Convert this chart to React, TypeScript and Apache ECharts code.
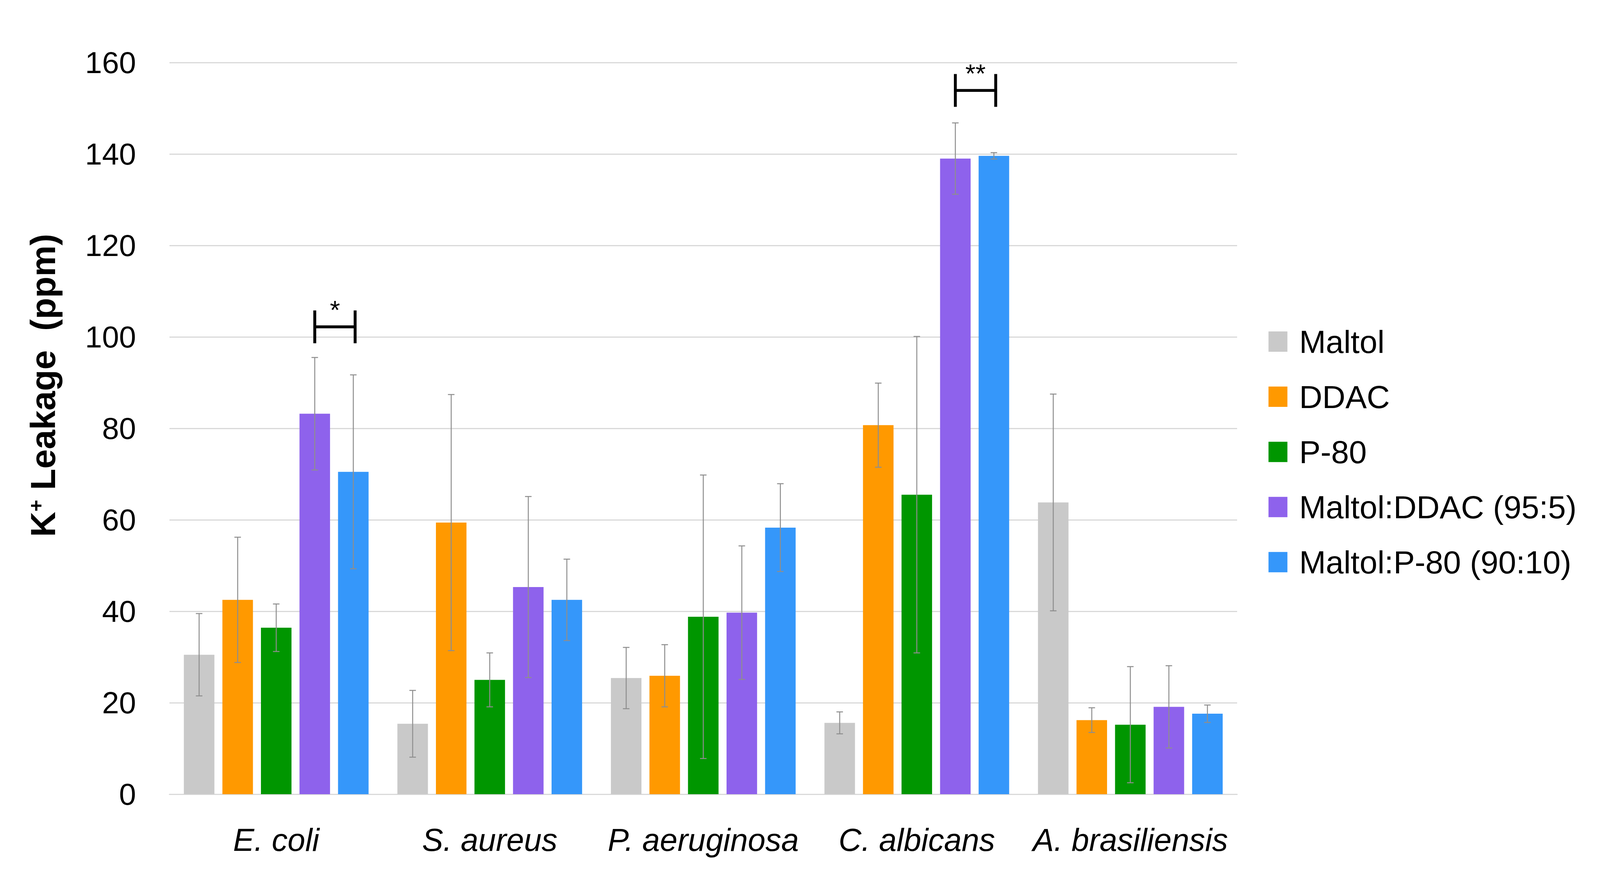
import React, { useEffect, useRef } from "react";
import * as echarts from "echarts";

const categories = ["E. coli", "S. aureus", "P. aeruginosa", "C. albicans", "A. brasiliensis"];
const seriesNames = ["Maltol", "DDAC", "P-80", "Maltol:DDAC (95:5)", "Maltol:P-80 (90:10)"];
const colors = ["#C9C9C9", "#FF9900", "#009600", "#8E62EC", "#3597FA"];

const maltol = [30.5, 15.4, 25.4, 15.6, 63.8];
const ddac = [42.5, 59.4, 25.9, 80.7, 16.2];
const p80 = [36.4, 25.0, 38.8, 65.5, 15.2];
const maltolDdac = [83.2, 45.3, 39.7, 139.0, 19.1];
const maltolP80 = [70.5, 42.5, 58.3, 139.6, 17.6];

const maltolErr = [9.0, 7.3, 6.7, 2.4, 23.7];
const ddacErr = [13.7, 28.0, 6.8, 9.2, 2.7];
const p80Err = [5.2, 5.9, 31.0, 34.6, 12.7];
const maltolDdacErr = [12.3, 19.8, 14.6, 7.8, 9.0];
const maltolP80Err = [21.2, 8.9, 9.6, 0.7, 1.9];

const yMin = 0;
const yMax = 160;
const yStep = 20;

// significance brackets: category index, bracket level (ppm), label, from series, to series
const sigCategories = [0, 3];
const sigLevels = [102.2, 153.9];
const sigLabels = ["*", "**"];
const sigFrom = [3, 3];
const sigTo = [4, 4];

const values = [maltol, ddac, p80, maltolDdac, maltolP80];
const errors = [maltolErr, ddacErr, p80Err, maltolDdacErr, maltolP80Err];

const FONT = "'Liberation Sans', Arial, sans-serif";
const REF_W = 4400;
const REF_H = 2272;
const ERR_COLOR = "#8E8E8E";

export default function App() {
  const ref = useRef<HTMLDivElement>(null);
  useEffect(() => {
    document.body.style.margin = "0";
    document.body.style.overflow = "hidden";
    if (!ref.current) return;
    const W = ref.current.clientWidth || REF_W;
    const H = ref.current.clientHeight || REF_H;
    const sx = W / REF_W;
    const sy = H / REF_H;
    const sf = Math.min(sx, sy);
    const X = (v: number) => v * sx;
    const Y = (v: number) => v * sy;
    const F = (v: number) => v * sf;

    const BAR_W = X(84);
    const GAP = X(22);

    const chart = echarts.init(ref.current, undefined, { renderer: "svg" });
    const offsetOf = (i: number) => (i - 2) * (BAR_W + GAP);

    const barSeries = values.map((vals, i) => ({
      name: seriesNames[i],
      type: "bar",
      data: vals,
      barWidth: BAR_W,
      barGap: (GAP / BAR_W) * 100 + "%",
      itemStyle: { color: colors[i] },
      z: 2,
    }));

    const errSeries = errors.map((errs, i) => ({
      name: "err" + i,
      type: "custom",
      z: 3,
      data: errs.map((e, c) => [c, values[i][c], e]),
      renderItem: (params: any, api: any) => {
        const cat = api.value(0);
        const val = api.value(1);
        const err = api.value(2);
        const top = api.coord([cat, val + err]);
        const bot = api.coord([cat, Math.max(val - err, 0)]);
        const x = top[0] + offsetOf(i);
        const cap = X(9);
        const style = { stroke: ERR_COLOR, lineWidth: 2.5 };
        return {
          type: "group",
          children: [
            { type: "line", shape: { x1: x, y1: top[1], x2: x, y2: bot[1] }, style },
            { type: "line", shape: { x1: x - cap, y1: top[1], x2: x + cap, y2: top[1] }, style },
            { type: "line", shape: { x1: x - cap, y1: bot[1], x2: x + cap, y2: bot[1] }, style },
          ],
        };
      },
    }));

    const sigSeries = {
      name: "significance",
      type: "custom",
      z: 4,
      data: sigCategories.map((c, k) => [c, sigLevels[k], k]),
      renderItem: (params: any, api: any) => {
        const cat = api.value(0);
        const lvl = api.value(1);
        const k = api.value(2);
        const p = api.coord([cat, lvl]);
        const x1 = p[0] + offsetOf(sigFrom[k]);
        const x2 = p[0] + offsetOf(sigTo[k]) + X(5);
        const y = p[1];
        const h = Y(42);
        const style = { stroke: "#000", lineWidth: 8 * sf };
        return {
          type: "group",
          children: [
            { type: "line", shape: { x1, y1: y, x2, y2: y }, style },
            { type: "line", shape: { x1, y1: y - h, x2: x1, y2: y + h }, style },
            { type: "line", shape: { x1: x2, y1: y - h, x2, y2: y + h }, style },
            {
              type: "text",
              x: (x1 + x2) / 2,
              y: y - Y(44),
              style: {
                text: sigLabels[k],
                fill: "#000",
                font: `${F(72)}px ${FONT}`,
                textAlign: "center",
                textVerticalAlign: "middle",
              },
            },
          ],
        };
      },
    };

    chart.setOption({
      animation: false,
      backgroundColor: "#ffffff",
      grid: { left: X(466), right: X(998), top: Y(160), bottom: Y(240), containLabel: false },
      legend: {
        orient: "vertical",
        left: X(3483),
        top: Y(828),
        data: seriesNames,
        icon: "rect",
        itemWidth: X(52),
        itemHeight: Y(52),
        itemGap: Y(141) - F(88),
        textStyle: {
          fontFamily: FONT,
          fontSize: F(88),
          lineHeight: F(88),
          color: "#000",
          padding: [0, 0, 0, X(27)],
        },
      },
      xAxis: {
        type: "category",
        data: categories,
        axisLine: { lineStyle: { color: "#D9D9D9", width: 3 } },
        axisTick: { show: false },
        axisLabel: {
          interval: 0,
          fontFamily: FONT,
          fontStyle: "italic",
          fontSize: F(87),
          color: "#000",
          margin: Y(76),
        },
      },
      yAxis: {
        type: "value",
        min: yMin,
        max: yMax,
        interval: yStep,
        axisLine: { show: false },
        axisTick: { show: false },
        splitLine: { lineStyle: { color: "#D9D9D9", width: 3 } },
        axisLabel: { fontFamily: FONT, fontSize: F(84), color: "#000", margin: X(92) },
        name: "K{sup|+} Leakage  (ppm)",
        nameLocation: "middle",
        nameRotate: 90,
        nameGap: X(300),
        nameTextStyle: {
          fontFamily: FONT,
          fontSize: F(96),
          fontWeight: "bold",
          color: "#000",
          padding: [0, 0, 0, Y(220)],
          rich: {
            sup: {
              fontFamily: FONT,
              fontSize: F(56),
              fontWeight: "bold",
              color: "#000",
              verticalAlign: "top",
              lineHeight: F(56),
            },
          },
        },
      },
      series: [...barSeries, ...errSeries, sigSeries],
    });
    return () => chart.dispose();
  }, []);
  return <div ref={ref} style={{ width: "100vw", height: "100vh" }} />;
}
